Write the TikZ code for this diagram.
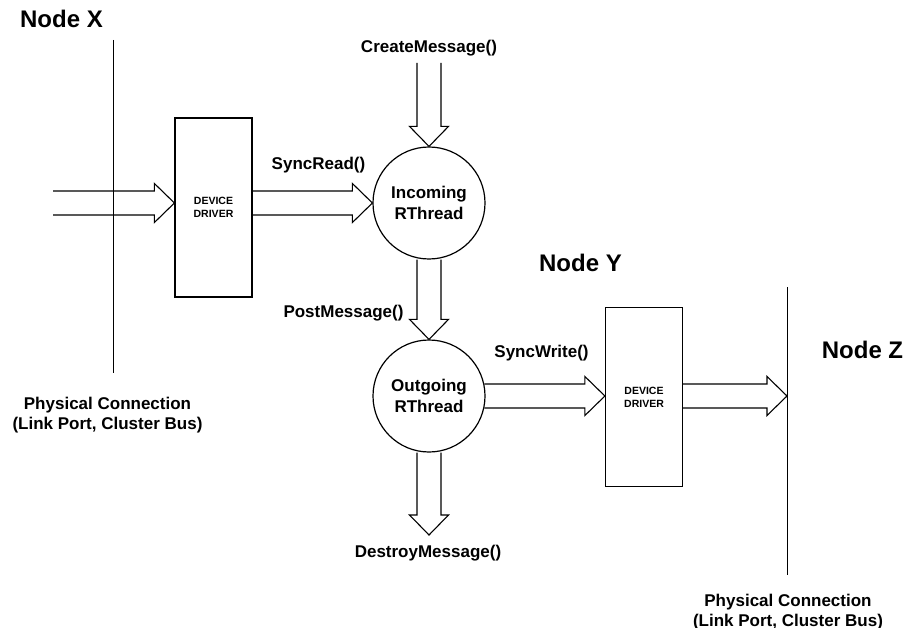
\documentclass[tikz,border=0pt]{standalone}
\usepackage{fontspec}
\setmainfont{Liberation Sans}
\usetikzlibrary{calc}

\newcommand{\harrow}[2]{%
	\draw[fat] let \p1=(#1), \p2=(#2) in (\x1,\y2+12pt) -- (\x2-20pt,\y2+12pt) -- (\x2-20pt,\y2+19.5pt) -- (\x2,\y2) -- (\x2-20pt,\y2-19.5pt) -- (\x2-20pt,\y2-12pt) -- (\x1,\y2-12pt);}
\newcommand{\varrow}[2]{%
	\draw[fat] let \p1=(#1), \p2=(#2) in (\x2-12pt,\y1) -- (\x2-12pt,\y2+20pt) -- (\x2-19.5pt,\y2+20pt) -- (\x2,\y2) -- (\x2+19.5pt,\y2+20pt) -- (\x2+12pt,\y2+20pt) -- (\x2+12pt,\y1);}

\begin{document}
\begin{tikzpicture}[x=1pt,y=-1pt,line width=1.2pt,
		fat/.style={line width=1.1pt},
		bus/.style={line width=0.9pt},
		lbl/.style={font=\fontsize{17}{19.5}\selectfont\bfseries,anchor=base,inner sep=0pt},
		phys/.style={lbl,anchor=center,align=center},
		big/.style={font=\fontsize{24}{28}\selectfont\bfseries,anchor=base,inner sep=0pt},
		drv/.style={draw,minimum width=77,minimum height=179,inner sep=0pt,align=center,font=\fontsize{10.5}{12.7}\selectfont\bfseries},
		thread/.style={draw,circle,minimum size=112,inner sep=0pt,align=center,font=\fontsize{17}{20.7}\selectfont\bfseries}]

		\useasboundingbox (0,0) rectangle (907,628);

		\node[big] (nodeX) at (61.5,28){Node X};
		\node[big] (nodeY) at (580.5,272){Node Y};
		\node[big] (nodeZ) at (862.5,358){Node Z};

		\coordinate (xTop) at (113,40);
		\coordinate (xBot) at (113,373);
		\draw[bus] (xTop)--(xBot);
		\node[phys] (physX) at (107.5,415){Physical Connection\\(Link Port, Cluster Bus)};

		\coordinate (zTop) at (787,287);
		\coordinate (zBot) at (787,575);
		\draw[bus] (zTop)--(zBot);
		\node[phys] (physZ) at (788,612){Physical Connection\\(Link Port, Cluster Bus)};

		\node[drv] (drv1) at (213.5,207.5){DEVICE\\DRIVER};
		\node[drv] (drv2) at (644,397){DEVICE\\DRIVER};
		\node[thread] (inc) at (429,203){Incoming\\RThread};
		\node[thread] (out) at (429,396){Outgoing\\RThread};

		\coordinate (inX) at (53,203);
		\coordinate (create) at (429,63);
		\coordinate (destroy) at (429,535);

		\harrow{inX}{drv1.west |- inc.west}
		\harrow{drv1.east}{inc.west}
		\varrow{create}{inc.north}
		\varrow{inc.south}{out.north}
		\varrow{out.south}{destroy}
		\harrow{[xshift=-1.3]out.east}{drv2.west |- out.east}
		\harrow{drv2.east}{zTop |- out.east}

		\node[lbl] (lCreate) at (429,53){CreateMessage()};
		\node[lbl] (lRead) at (318.5,170){SyncRead()};
		\node[lbl] (lPost) at (343.5,317){PostMessage()};
		\node[lbl] (lWrite) at (541.5,357){SyncWrite()};
		\node[lbl] (lDestroy) at (428,557){DestroyMessage()};
	\end{tikzpicture}
\end{document}
